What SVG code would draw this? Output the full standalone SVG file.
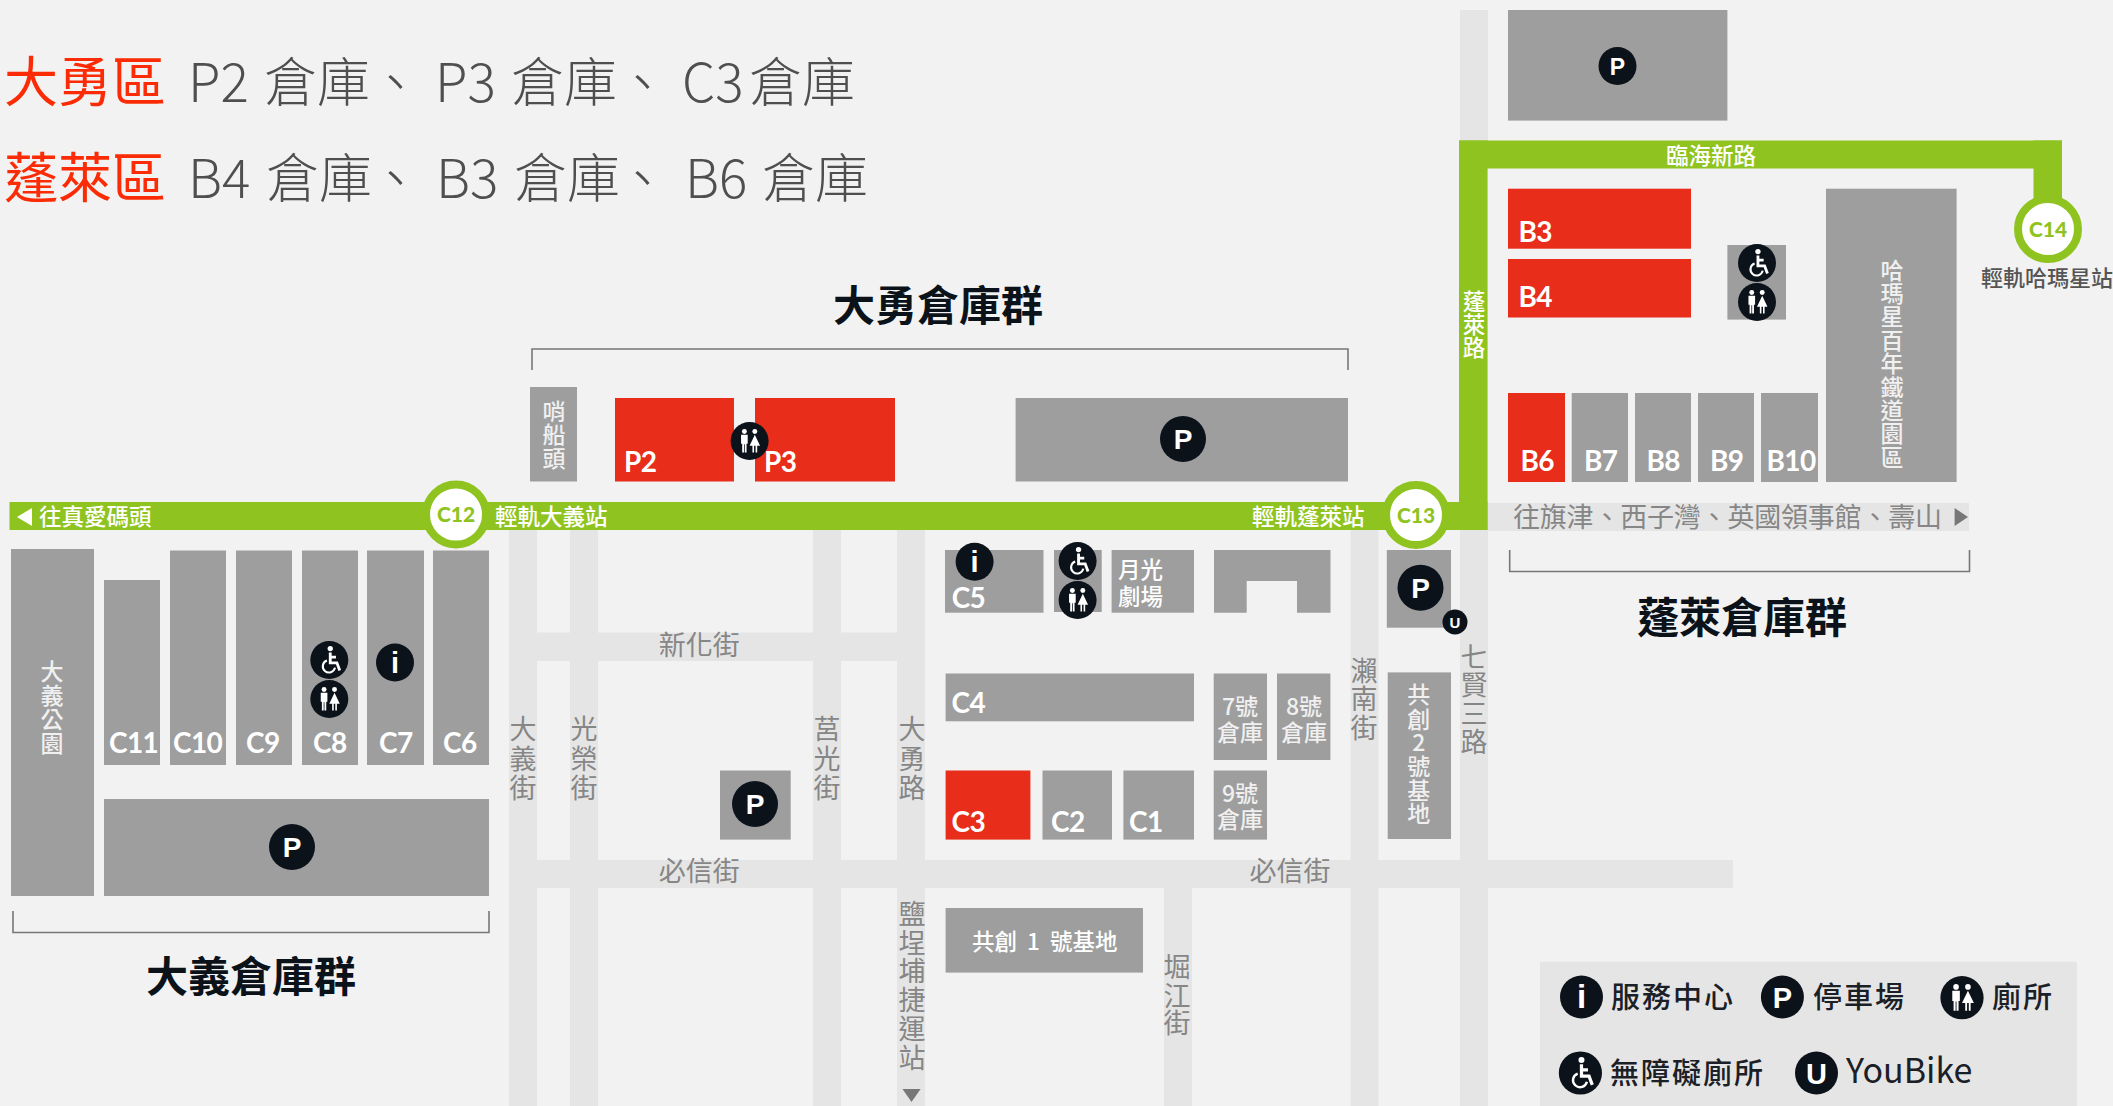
<svg xmlns="http://www.w3.org/2000/svg" width="2113" height="1106" viewBox="0 0 2113 1106">
<style>
text{font-family:"Noto Sans CJK TC","Noto Sans",sans-serif}
.b{fill:#9e9e9e}.r{fill:#e82d1b}.road{fill:#e5e5e5}.line{fill:#8fc31f}.dark{fill:#0b1219}
.head{font-size:53px;font-weight:300;fill:#4f4f4f}.red{font-size:54px;fill:#fb2c05;font-weight:400}
.title{font-size:42px;font-weight:700;fill:#0b1219}
.lab{font-family:"Lato","Noto Sans",sans-serif;font-size:28px;font-weight:700;fill:#fff;letter-spacing:-.6px}
.w{font-size:22.500px;fill:#fff;font-weight:500}.wm{font-size:23px;fill:#f0f0f0;text-anchor:middle;font-weight:500}
.rn{font-size:27px;fill:#868686;text-anchor:middle}.rh{font-size:27px;fill:#868686}
.st{font-family:"Lato","Noto Sans",sans-serif;font-size:21px;font-weight:900;fill:#8fc31f;text-anchor:middle}
.ring{fill:#fff;stroke:#8fc31f;stroke-width:8}
.ic{font-family:"Liberation Sans",sans-serif;font-weight:700;fill:#fff;text-anchor:middle}
.br{fill:none;stroke:#777;stroke-width:1.6}
.leg{font-size:29px;fill:#1a2026;letter-spacing:2px;font-weight:500}
</style>
<defs>
<g id="wc"><circle r="20" class="dark"/><g fill="#fff"><circle cx="-5.500" cy="-10" r="2.600"/><circle cx="5.500" cy="-10" r="2.600"/><path d="M-9-6.500h7V3h-1.200v9h-1.900V3.500h-.8V12h-1.900V3h-1.200z"/><path d="M5.500-6.500 11 5H8v7H6.300V5h-1.600v7H3V5H0z"/></g></g>
<g id="ac"><circle r="20" class="dark"/><circle cx="1" cy="-12" r="2.800" fill="#fff"/><path d="M1-8V3h7l3 8M1-3h6" fill="none" stroke="#fff" stroke-width="3"/><path d="M-2.500 0.500A6.500 6.500 0 1 0 6 8" fill="none" stroke="#fff" stroke-width="2.200"/></g>
</defs>
<rect width="2113" height="1106" fill="#f2f2f2"/>

<g id="roads">
<rect class="road" x="1460" y="10" width="28" height="1096"/>
<rect class="road" x="509" y="529" width="28" height="577"/>
<rect class="road" x="570" y="529" width="28" height="577"/>
<rect class="road" x="813" y="529" width="28" height="577"/>
<rect class="road" x="897" y="529" width="28" height="577"/>
<rect class="road" x="1350.500" y="529" width="28" height="577"/>
<rect class="road" x="1164" y="888" width="28" height="218"/>
<rect class="road" x="537" y="632.500" width="360" height="28.500"/>
<rect class="road" x="537" y="860" width="1196" height="28"/>
<rect class="road" x="1487.500" y="503" width="481.500" height="28"/>
</g>

<g id="light-rail">
<rect class="line" x="9.500" y="502" width="1478" height="28"/>
<rect class="line" x="1459" y="140.500" width="28.500" height="389.500"/>
<rect class="line" x="1459" y="140.500" width="603" height="28"/>
<rect class="line" x="2033.500" y="140.500" width="28.500" height="60"/>
<path d="M17 517 32 508V526z" fill="#fff"/>
</g>

<g id="headings">
<text class="red" x="4" y="102">大勇區</text>
<text class="head" y="102"><tspan x="188">P2</tspan><tspan x="264">倉庫</tspan><tspan x="369">、</tspan><tspan x="435">P3</tspan><tspan x="511">倉庫</tspan><tspan x="616">、</tspan><tspan x="682">C3</tspan><tspan x="749">倉庫</tspan></text>
<text class="red" x="4" y="198">蓬萊區</text>
<text class="head" y="198"><tspan x="188">B4</tspan><tspan x="266">倉庫</tspan><tspan x="369">、</tspan><tspan x="436">B3</tspan><tspan x="514">倉庫</tspan><tspan x="616">、</tspan><tspan x="685">B6</tspan><tspan x="762">倉庫</tspan></text>
<text class="title" x="833" y="321">大勇倉庫群</text>
<text class="title" x="146" y="992">大義倉庫群</text>
<text class="title" x="1637" y="633">蓬萊倉庫群</text>
<path class="br" d="M532 370V349H1348V370"/>
<path class="br" d="M13 911V932.500H489V911"/>
<path class="br" d="M1509.700 550V571.500H1969.500V550"/>
</g>

<g id="dayi" transform="translate(0 1)">
<g id="park"><rect class="b" x="11" y="548" width="83" height="347"/><text class="wm" x="52 52 52 52" y="679.400 703 727 751">大義公園</text></g>
<g id="C11"><rect class="b" x="104" y="579" width="56" height="185"/><text class="lab" x="109" y="751.500">C11</text></g>
<g id="C10"><rect class="b" x="170" y="549.500" width="56" height="214.500"/><text class="lab" x="173" y="751.500">C10</text></g>
<g id="C9"><rect class="b" x="236" y="549.500" width="56" height="214.500"/><text class="lab" x="246" y="751.500">C9</text></g>
<g id="C8"><rect class="b" x="302" y="549.500" width="56" height="214.500"/><text class="lab" x="313" y="751.500">C8</text><use href="#ac" transform="translate(329.300 659) scale(.95)"/><use href="#wc" transform="translate(329.300 698) scale(.95)"/></g>
<g id="C7"><rect class="b" x="367" y="549.500" width="57" height="214.500"/><text class="lab" x="379" y="751.500">C7</text><circle class="dark" cx="395" cy="661.500" r="19"/><text class="ic" x="395" y="671.500" font-size="29">i</text></g>
<g id="C6"><rect class="b" x="433" y="549.500" width="56" height="214.500"/><text class="lab" x="443" y="751.500">C6</text></g>
<g id="P-dayi"><rect class="b" x="104" y="798" width="385" height="97"/><circle class="dark" cx="292" cy="846" r="23"/><text class="ic" x="292" y="856" font-size="28">P</text></g>
</g>

<g id="dayong-north">
<g id="shaochuantou"><rect class="b" x="530" y="387" width="47" height="94.500"/><text class="wm" x="554 554 554" y="419.500 442.500 467">哨船頭</text></g>
<g id="P2"><rect class="r" x="615" y="398" width="119" height="83.500"/><text class="lab" x="624" y="472">P2</text></g>
<g id="P3"><rect class="r" x="755" y="398" width="140" height="83.500"/><text class="lab" x="764" y="472">P3</text></g>
<use href="#wc" transform="translate(749.600 441) scale(.95)"/>
<g id="P-dayong"><rect class="b" x="1015.600" y="398" width="332.400" height="83.500"/><circle class="dark" cx="1183" cy="439" r="23"/><text class="ic" x="1183" y="449" font-size="28">P</text></g>
</g>

<g id="dayong-south" transform="translate(0 1)">
<g id="C5"><rect class="b" x="945" y="549" width="98.500" height="62.700"/><text class="lab" x="951.700" y="607">C5</text><circle class="dark" cx="974.600" cy="560.700" r="19"/><text class="ic" x="974.600" y="570.700" font-size="29">i</text></g>
<g id="wc-c"><rect class="b" x="1054" y="549" width="47.700" height="62"/><use href="#ac" transform="translate(1077.600 560) scale(.95)"/><use href="#wc" transform="translate(1077.600 599) scale(.95)"/></g>
<g id="moonlight"><rect class="b" x="1111.600" y="549" width="82.400" height="62.700"/><text class="w"><tspan x="1118" y="576.700">月光</tspan><tspan x="1118" y="604">劇場</tspan></text></g>
<g id="ushape"><path class="b" d="M1214 549H1330.500V611.700H1297V580H1246.700V611.700H1214z"/></g>
<g id="C4"><rect class="b" x="945.600" y="672.500" width="248.400" height="47.800"/><text class="lab" x="951.600" y="712">C4</text></g>
<g id="C3"><rect class="r" x="945.600" y="769.500" width="84.800" height="69.100"/><text class="lab" x="951.600" y="831">C3</text></g>
<g id="C2"><rect class="b" x="1042.500" y="769.500" width="69.500" height="69.100"/><text class="lab" x="1051" y="831">C2</text></g>
<g id="C1"><rect class="b" x="1123.400" y="769.500" width="70.600" height="69.100"/><text class="lab" x="1129" y="831">C1</text></g>
<g id="P-small"><rect class="b" x="720" y="769.500" width="70.700" height="69.100"/><circle class="dark" cx="755" cy="803" r="23"/><text class="ic" x="755" y="813" font-size="28">P</text></g>
<g id="base1"><rect class="b" x="945.600" y="907" width="197.400" height="64.600"/><text class="w" y="949"><tspan x="972">共創</tspan><tspan x="1027">1</tspan><tspan x="1050">號基地</tspan></text></g>
<g id="w7"><rect class="b" x="1213.700" y="672.500" width="53.300" height="86.500"/><text class="wm"><tspan x="1240" y="713.700">7號</tspan><tspan x="1240" y="740">倉庫</tspan></text></g>
<g id="w8"><rect class="b" x="1277" y="672.500" width="53.400" height="86.500"/><text class="wm"><tspan x="1304" y="713.700">8號</tspan><tspan x="1304" y="740">倉庫</tspan></text></g>
<g id="w9"><rect class="b" x="1213.700" y="769.500" width="53.300" height="69.100"/><text class="wm"><tspan x="1240" y="800.700">9號</tspan><tspan x="1240" y="827">倉庫</tspan></text></g>
<g id="P-c13"><rect class="b" x="1386.800" y="549" width="64.200" height="77.700"/><circle class="dark" cx="1420.500" cy="586.700" r="23"/><text class="ic" x="1420.500" y="596.700" font-size="28">P</text><circle class="dark" cx="1455" cy="621" r="12.500"/><text class="ic" x="1455" y="626.500" font-size="15">U</text></g>
<g id="base2"><rect class="b" x="1387.700" y="671.400" width="63.300" height="166.600"/><text class="wm" x="1418.700 1418.700 1418.700 1418.700 1418.700 1418.700" y="702 727 750 774 798 821">共創2號基地</text></g>
</g>

<g id="penglai">
<g id="P-top"><rect class="b" x="1508" y="10" width="219.400" height="110.600"/><circle class="dark" cx="1617.500" cy="66" r="19"/><text class="ic" x="1617.500" y="74.500" font-size="23">P</text></g>
<g id="B3"><rect class="r" x="1508" y="188.700" width="183" height="60"/><text class="lab" x="1518.500" y="241.500">B3</text></g>
<g id="B4"><rect class="r" x="1508" y="259" width="183" height="58.500"/><text class="lab" x="1518.500" y="307">B4</text></g>
<g id="wc-b"><rect class="b" x="1727.400" y="245" width="58.600" height="74.600"/><use href="#ac" transform="translate(1757 263) scale(.95)"/><use href="#wc" transform="translate(1757 302) scale(.95)"/></g>
<g id="hamasen"><rect class="b" x="1826" y="188.700" width="130.600" height="293.300"/><text class="wm" x="1892 1892 1892 1892 1892 1892 1892 1892 1892" y="278.500 301.900 325.300 348.700 372.100 395.500 418.900 442.300 465.700">哈瑪星百年鐵道園區</text></g>
<g id="B6"><rect class="r" x="1508" y="393" width="57" height="89"/><text class="lab" x="1520.500" y="471">B6</text></g>
<g id="B7"><rect class="b" x="1571.700" y="393" width="56.300" height="89"/><text class="lab" x="1584" y="471">B7</text></g>
<g id="B8"><rect class="b" x="1635" y="393" width="56" height="89"/><text class="lab" x="1646.500" y="471">B8</text></g>
<g id="B9"><rect class="b" x="1698" y="393" width="56" height="89"/><text class="lab" x="1710" y="471">B9</text></g>
<g id="B10"><rect class="b" x="1761" y="393" width="57" height="89"/><text class="lab" x="1766.500" y="471">B10</text></g>
</g>

<g id="labels">
<text class="w" x="39" y="525">往真愛碼頭</text>
<text class="w" x="495" y="525">輕軌大義站</text>
<text class="w" x="1252" y="525">輕軌蓬萊站</text>
<text class="w" x="1666" y="164">臨海新路</text>
<text class="w" style="text-anchor:middle" x="1474 1474 1474" y="310 333 355.500">蓬萊路</text>
<text x="1981" y="286" font-size="22" fill="#555" font-weight="500">輕軌哈瑪星站</text>
<text class="rh" x="1513" y="527" style="letter-spacing:-.2px">往旗津、西子灣、英國領事館、壽山</text>
<path d="M1954.600 508 1968 517 1954.600 526z" fill="#777"/>
<text class="rh" x="658.700" y="655">新化街</text>
<text class="rh" x="658.700" y="881">必信街</text>
<text class="rh" x="1249.500" y="881">必信街</text>
<text class="rn" x="523 523 523" y="739 769 798">大義街</text>
<text class="rn" x="584 584 584" y="739 769 798">光榮街</text>
<text class="rn" x="827 827 827" y="739 769 798">莒光街</text>
<text class="rn" x="912 912 912" y="739 769 798">大勇路</text>
<text class="rn" x="912 912 912 912 912 912" y="924 952.500 981 1010 1039 1067.500">鹽埕埔捷運站</text>
<path d="M902.500 1089H920.600L911.500 1102z" fill="#777"/>
<text class="rn" x="1364 1364 1364" y="681 709 737.500">瀨南街</text>
<text class="rn" x="1474 1474 1474 1474" y="667 695 724 752">七賢三路</text>
<text class="rn" x="1177 1177 1177" y="977 1006 1033">堀江街</text>
</g>

<g id="C12"><circle class="ring" cx="456" cy="514.500" r="30"/><text class="st" x="456" y="522">C12</text></g>
<g id="C13"><circle class="ring" cx="1416" cy="515" r="30"/><text class="st" x="1416" y="522.500">C13</text></g>
<g id="C14"><circle class="ring" cx="2048" cy="229" r="30"/><text class="st" x="2048" y="236.500">C14</text></g>

<g id="legend" transform="translate(0 1)">
<rect x="1540" y="960.700" width="537" height="145.300" fill="#e5e5e5"/>
<circle class="dark" cx="1581.500" cy="996" r="21.500"/><text class="ic" x="1581.500" y="1007" font-size="33">i</text>
<text class="leg" x="1611" y="1007">服務中心</text>
<circle class="dark" cx="1782.400" cy="996" r="21.500"/><text class="ic" x="1782.400" y="1006.500" font-size="29">P</text>
<text class="leg" x="1813" y="1007">停車場</text>
<use href="#wc" transform="translate(1962 996.700) scale(1.08)"/>
<text class="leg" x="1992" y="1007">廁所</text>
<use href="#ac" transform="translate(1580.400 1072) scale(1.08)"/>
<text class="leg" x="1610" y="1083">無障礙廁所</text>
<circle class="dark" cx="1816.500" cy="1072" r="21.500"/><text class="ic" x="1816.500" y="1082.500" font-size="29">U</text>
<text x="1846" y="1082" font-size="34" fill="#1a2026">YouBike</text>
</g>
</svg>
